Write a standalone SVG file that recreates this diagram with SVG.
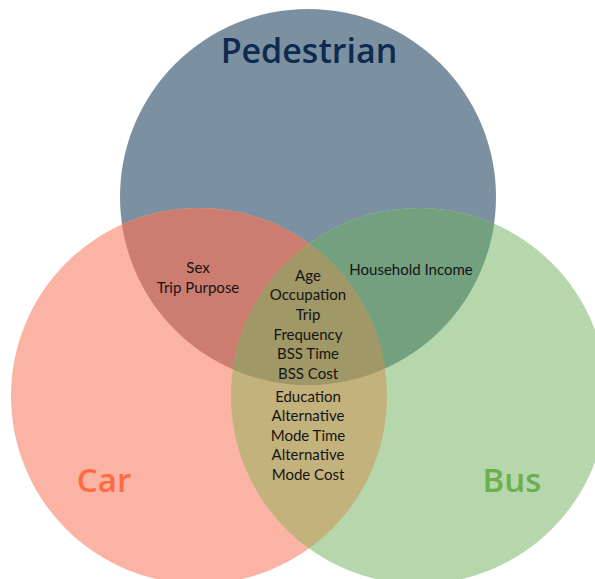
<svg xmlns="http://www.w3.org/2000/svg" width="595" height="579" viewBox="0 0 595 579">
  <style>
    .item { font-family: "Lato", "Liberation Sans", sans-serif; font-size: 15px; fill: #141414; text-anchor: middle; }
    .title { font-family: "Open Sans", "Liberation Sans", sans-serif; font-weight: 600; text-anchor: middle; }
  </style>
  <defs>
    <clipPath id="clipPed"><circle cx="308" cy="197" r="188"/></clipPath>
    <clipPath id="clipBus"><circle cx="419" cy="396" r="188"/></clipPath>
  </defs>
  <rect width="595" height="579" fill="#ffffff"/>

  <!-- base sets -->
  <g id="pedestrian">
    <circle cx="308" cy="197" r="188" fill="#7B91A2"/>
  </g>
  <g id="car">
    <circle cx="199" cy="396" r="188" fill="#FBB3A4"/>
  </g>
  <g id="bus">
    <circle cx="419" cy="396" r="188" fill="#B5D7AB"/>
  </g>

  <!-- overlaps -->
  <g id="car-pedestrian">
    <circle cx="199" cy="396" r="188" fill="#CD7C70" clip-path="url(#clipPed)"/>
  </g>
  <g id="bus-pedestrian">
    <circle cx="419" cy="396" r="188" fill="#73A07E" clip-path="url(#clipPed)"/>
  </g>
  <g id="car-bus">
    <circle cx="199" cy="396" r="188" fill="#C4B27D" clip-path="url(#clipBus)"/>
  </g>
  <g id="all-three">
    <g clip-path="url(#clipPed)">
      <circle cx="199" cy="396" r="188" fill="#A09866" clip-path="url(#clipBus)"/>
    </g>
  </g>

  <!-- set titles -->
  <text class="title" x="309" y="63" font-size="34" fill="#0E2A4F">Pedestrian</text>
  <text class="title" x="104" y="492" font-size="33" fill="#FF6A42">Car</text>
  <text class="title" x="512" y="492" font-size="33" fill="#6AAF50">Bus</text>

  <!-- region labels -->
  <text class="item" x="198" y="273">Sex</text>
  <text class="item" x="198" y="293">Trip Purpose</text>
  <text class="item" x="411" y="275">Household Income</text>

  <g id="shared-labels">
    <text class="item" x="308" y="281">Age</text>
    <text class="item" x="308" y="300">Occupation</text>
    <text class="item" x="308" y="320">Trip</text>
    <text class="item" x="308" y="340">Frequency</text>
    <text class="item" x="308" y="359">BSS Time</text>
    <text class="item" x="308" y="379">BSS Cost</text>
    <text class="item" x="308" y="402">Education</text>
    <text class="item" x="308" y="421">Alternative</text>
    <text class="item" x="308" y="441">Mode Time</text>
    <text class="item" x="308" y="460">Alternative</text>
    <text class="item" x="308" y="480">Mode Cost</text>
  </g>
</svg>
